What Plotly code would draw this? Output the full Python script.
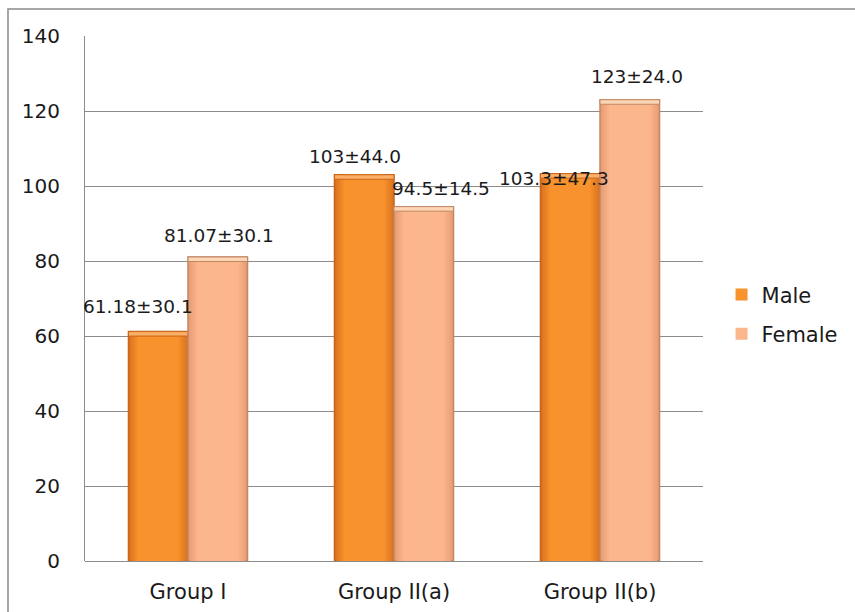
import plotly.graph_objects as go

# Chart data
groups = ["Group I", "Group II(a)", "Group II(b)"]
male_values = [61.18, 103, 103.3]
female_values = [81.07, 94.5, 123]
male_labels = ["61.18±30.1", "103±44.0", "103.3±47.3"]
female_labels = ["81.07±30.1", "94.5±14.5", "123±24.0"]
y_ticks = [0, 20, 40, 60, 80, 100, 120, 140]

# Label nudges in pixels (x, y) for each data label
male_label_shift = [(-20, 25), (-9, 18), (-16, -5)]
female_label_shift = [(1, 21), (17, 18), (7, 23)]

FONT = "DejaVu Sans, Verdana, sans-serif"
TEXT = "#1a1a1a"
BAR_W = 0.289      # width of one bar, in category units
LAYERS = 5         # shading layers used to fake a horizontal gradient
INSET = 0.011      # inset per shading layer, category units
CAP = 1.2          # height of the bevel strip at the bar top, data units


def mix(c1, c2, t):
    a = [int(c1[i:i + 2], 16) for i in (1, 3, 5)]
    b = [int(c2[i:i + 2], 16) for i in (1, 3, 5)]
    return "#" + "".join(f"{round(x + (y - x) * t):02x}" for x, y in zip(a, b))


series = [
    dict(name="Male", values=male_values, offset=-BAR_W,
         edge="#C8651A", outer="#DC7420", inner="#F8922C", cap="#FBB066"),
    dict(name="Female", values=female_values, offset=0.0,
         edge="#C08866", outer="#EA9E74", inner="#FCB68C", cap="#FDD6B6"),
]

fig = go.Figure()
for s in series:
    for k in range(LAYERS):
        inset = k * INSET
        fig.add_trace(go.Bar(
            x=groups, y=s["values"], name=s["name"],
            offset=s["offset"] + inset, width=BAR_W - 2 * inset,
            showlegend=(k == LAYERS - 1), legendgroup=s["name"],
            hoverinfo="skip" if k else None,
            marker=dict(
                color=mix(s["outer"], s["inner"], k / (LAYERS - 1)),
                line=dict(color=s["edge"], width=1.5 if k == 0 else 0),
            ),
        ))
    # light bevel strip along the bar top
    fig.add_trace(go.Bar(
        x=groups, y=[CAP] * len(groups),
        base=[v - CAP for v in s["values"]],
        offset=s["offset"], width=BAR_W,
        showlegend=False, hoverinfo="skip",
        marker=dict(color=s["cap"], line=dict(color=s["edge"], width=1)),
    ))

annotations = []
for s, labels, shifts in ((series[0], male_labels, male_label_shift),
                          (series[1], female_labels, female_label_shift)):
    for i in range(len(groups)):
        annotations.append(dict(
            x=i + s["offset"] + BAR_W / 2, y=s["values"][i],
            xref="x", yref="y", text=labels[i], showarrow=False,
            xshift=shifts[i][0], yshift=shifts[i][1],
            font=dict(family=FONT, size=18.5, color=TEXT),
        ))

fig.update_layout(
    width=855, height=612,
    margin=dict(l=85, r=152, t=36, b=51, autoexpand=False),
    paper_bgcolor="white", plot_bgcolor="white",
    barmode="overlay",
    font=dict(family=FONT, size=20, color=TEXT),
    showlegend=True,
    legend=dict(
        x=1.03, xanchor="left", y=0.47, yanchor="middle",
        font=dict(family=FONT, size=21, color=TEXT),
        tracegroupgap=9, itemwidth=30,
    ),
    annotations=annotations,
    shapes=[dict(
        type="rect", xref="paper", yref="paper",
        x0=-0.1246, x1=1.26, y0=-0.12, y1=1.0514,
        line=dict(color="#8a8a8a", width=1.5), fillcolor="rgba(0,0,0,0)",
        layer="below",
    )],
)
fig.update_xaxes(
    type="category", range=[-0.5, len(groups) - 0.5],
    showgrid=False, showline=False, ticks="",
    tickfont=dict(family=FONT, size=21, color=TEXT),
    ticklabelstandoff=16, automargin=False,
)
fig.update_yaxes(
    range=[0, 140], tickvals=y_ticks, showgrid=True, gridcolor="#8c8c8c",
    gridwidth=1, showline=True, linecolor="#8c8c8c", linewidth=1,
    ticks="", zeroline=True, zerolinecolor="#8c8c8c", zerolinewidth=1,
    tickfont=dict(family=FONT, size=20, color=TEXT),
    ticklabelstandoff=20, automargin=False,
)

fig.write_html("out.html")
